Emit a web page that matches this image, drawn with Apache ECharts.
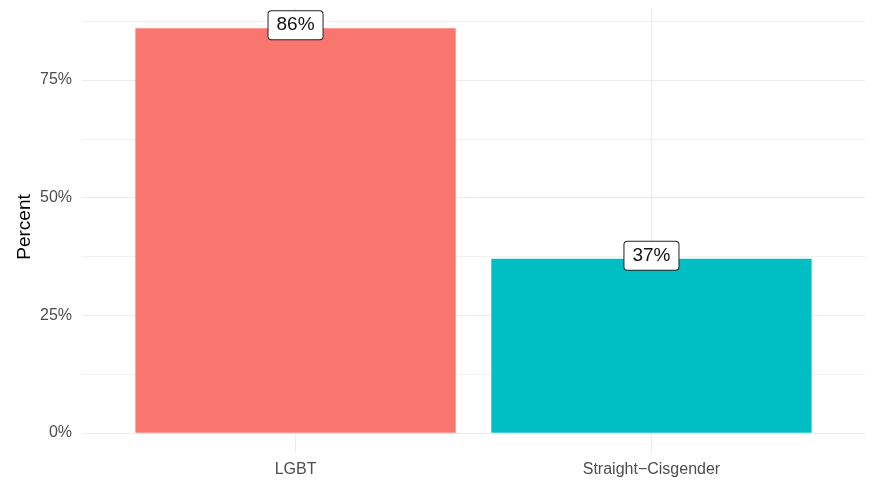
<!DOCTYPE html>
<html>
<head>
<meta charset="utf-8">
<script src="https://cdn.jsdelivr.net/npm/echarts@6/dist/echarts.min.js"></script>
<style>
html,body{margin:0;padding:0;background:#fff;}
#chart{width:872px;height:480px;}
</style>
</head>
<body>
<div id="chart"></div>
<script>
const categories = ['LGBT', 'Straight\u2212Cisgender'];
const values = [86, 37];
const barColors = ['#F8766D', '#00BFC4'];
const yTicks = [0, 25, 50, 75];

const FONT = 'Liberation Sans, Arial, sans-serif';
const chart = echarts.init(document.getElementById('chart'), null, {renderer: 'canvas'});

const T = 'rgba(0,0,0,0)';
const G = '#ebebeb';

const option = {
  backgroundColor: '#ffffff',
  animation: false,
  grid: [
    {left: 82, right: 7, top: 8, bottom: 27, containLabel: false},
    {left: 82, right: 7, top: 21.17, bottom: 47.23, containLabel: false}
  ],
  xAxis: [
    {
      type: 'value', gridIndex: 0, min: 0.4, max: 2.6, interval: 0.2,
      axisLine: {show: false}, axisTick: {show: false},
      axisLabel: {
        margin: 9, fontSize: 16, fontFamily: FONT, color: '#4d4d4d',
        showMinLabel: true, showMaxLabel: true,
        formatter: function (v) {
          for (let i = 0; i < categories.length; i++) {
            if (Math.abs(v - (i + 1)) < 1e-6) return categories[i];
          }
          return '';
        }
      },
      splitLine: {show: true, lineStyle: {color: [T, T, T, G, T], width: 1}}
    },
    {
      type: 'value', gridIndex: 1, min: 0, max: 1, show: false
    }
  ],
  yAxis: [
    {
      type: 'value', gridIndex: 0, min: -4.3, max: 90.3, show: false,
      splitLine: {show: false}
    },
    {
      type: 'value', gridIndex: 1, min: 0, max: 87.5, interval: 12.5,
      name: 'Percent', nameLocation: 'middle', nameGap: 48, nameMoveOverlap: false,
      nameTextStyle: {fontSize: 19, fontFamily: FONT, color: '#000'},
      axisLine: {show: false}, axisTick: {show: false},
      axisLabel: {
        margin: 10, fontSize: 16, fontFamily: FONT, color: '#4d4d4d',
        formatter: function (v) {
          return yTicks.indexOf(Math.round(v * 100) / 100) >= 0 ? v + '%' : '';
        }
      },
      splitLine: {show: true, lineStyle: {color: [G, '#f0f0f0'], width: 1}}
    }
  ],
  series: [
    {
      type: 'bar', xAxisIndex: 0, yAxisIndex: 0,
      barWidth: '90%',
      data: values.map((v, i) => ({value: [i + 1, v], itemStyle: {color: barColors[i]}})),
      z: 2
    },
    {
      type: 'scatter', xAxisIndex: 0, yAxisIndex: 0,
      symbol: 'circle', symbolSize: 0, itemStyle: {color: T, opacity: 1},
      data: values.map((v, i) => [i + 1, v]),
      z: 5,
      label: {
        show: true, position: 'inside', offset: [0, -3],
        formatter: p => p.value[1] + '%',
        fontSize: 19, fontFamily: FONT, color: '#111111', opacity: 1,
        backgroundColor: '#ffffff', borderColor: '#222', borderWidth: 1,
        borderRadius: 3, padding: [5, 8, 4, 8]
      }
    }
  ]
};
chart.setOption(option);
</script>
</body>
</html>
